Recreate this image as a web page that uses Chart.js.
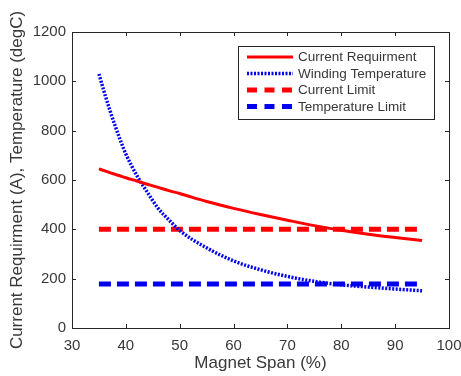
<!DOCTYPE html>
<html>
<head>
<meta charset="utf-8">
<script src="https://cdn.jsdelivr.net/npm/chart.js@4.4.1/dist/chart.umd.min.js"></script>
<style>
  html, body { margin: 0; padding: 0; background: #fff; }
  #wrap { width: 461px; height: 376px; }
</style>
</head>
<body>
<div id="wrap"><canvas id="myChart" width="461" height="376"></canvas></div>
<script>
// data
var spans = [35, 36, 37, 38, 39, 40, 42, 44, 46, 48, 50, 55, 60, 65, 70, 75, 80, 85, 90, 95];
var currentReq = [645, 638, 630, 623, 616, 609, 596, 583, 570, 557, 545, 513, 485, 460, 437, 415, 396, 380, 367, 355];
var windingTemp = [1030, 955, 885, 820, 760, 705, 620, 550, 485, 438, 395, 325, 272, 236, 209, 189, 175, 166, 158, 151];
var limitSpans = [35, 95];
var currentLimit = [400, 400];
var tempLimit = [178, 178];
var xTicks = [30, 40, 50, 60, 70, 80, 90, 100];
var yTicks = [0, 200, 400, 600, 800, 1000, 1200];

var FONT = "'Liberation Sans', Arial, sans-serif";
var TXT = '#383838';

function pts(xs, ys) {
    return xs.map(function(x, i) { return {x: x, y: ys[i]}; });
}

// box around the plot + inward ticks, matlab style
var boxPlugin = {
    id: 'box',
    afterDatasetsDraw: function(chart) {
        var ctx = chart.ctx, a = chart.chartArea;
        var xs = chart.scales.x, ys = chart.scales.y;
        ctx.save();
        ctx.strokeStyle = '#262626';
        ctx.lineWidth = 1;
        ctx.strokeRect(Math.round(a.left) + 0.5, Math.round(a.top) + 0.5,
            Math.round(a.right - a.left), Math.round(a.bottom - a.top));
        ctx.beginPath();
        xTicks.forEach(function(v) {
            var p = Math.round(xs.getPixelForValue(v)) + 0.5;
            ctx.moveTo(p, a.bottom); ctx.lineTo(p, a.bottom - 4);
            ctx.moveTo(p, a.top); ctx.lineTo(p, a.top + 4);
        });
        yTicks.forEach(function(v) {
            var p = Math.round(ys.getPixelForValue(v)) + 0.5;
            ctx.moveTo(a.left, p); ctx.lineTo(a.left + 4, p);
            ctx.moveTo(a.right, p); ctx.lineTo(a.right - 4, p);
        });
        ctx.stroke();

        // legend
        var bw = 196, bh = 73;
        var bx = a.right - 15 - bw, by = a.top + 14;
        ctx.fillStyle = '#fff';
        ctx.fillRect(bx, by, bw, bh);
        ctx.strokeStyle = '#262626';
        ctx.strokeRect(Math.round(bx) + 0.5, Math.round(by) + 0.5, bw, bh);
        ctx.font = '13.5px ' + FONT;
        ctx.textBaseline = 'middle';
        chart.data.datasets.forEach(function(ds, i) {
            var yy = by + 11 + i * 16.5;
            ctx.beginPath();
            ctx.strokeStyle = ds.borderColor;
            ctx.lineWidth = ds.borderWidth;
            ctx.lineCap = 'butt';
            ctx.setLineDash(ds.legendDash || []);
            ctx.moveTo(bx + 9, yy);
            ctx.lineTo(bx + 55, yy);
            ctx.stroke();
            ctx.setLineDash([]);
            ctx.fillStyle = TXT;
            ctx.fillText(ds.label, bx + 60, yy + 0.5);
        });
        ctx.restore();
    }
};

var ctx = document.getElementById('myChart').getContext('2d');
var myChart = new Chart(ctx, {
    type: 'line',
    data: {
        datasets: [{
            label: 'Current Requirment',
            data: pts(spans, currentReq),
            borderColor: '#ff0000',
            borderWidth: 3,
            cubicInterpolationMode: 'monotone'
        }, {
            label: 'Winding Temperature',
            data: pts(spans, windingTemp),
            borderColor: '#0000ee',
            borderWidth: 3.5,
            borderDash: [2, 1.5],
            legendDash: [2, 1.5],
            cubicInterpolationMode: 'monotone'
        }, {
            label: 'Current Limit',
            data: pts(limitSpans, currentLimit),
            borderColor: '#ff0000',
            borderWidth: 5,
            borderDash: [12, 6],
            legendDash: [10, 7.5]
        }, {
            label: 'Temperature Limit',
            data: pts(limitSpans, tempLimit),
            borderColor: '#0000ee',
            borderWidth: 5,
            borderDash: [12, 6],
            legendDash: [10, 7.5]
        }]
    },
    options: {
        responsive: false,
        animation: false,
        events: [],
        elements: { point: { radius: 0 } },
        layout: { padding: { top: 32, right: 12, left: 0, bottom: 0 } },
        plugins: {
            legend: { display: false },
            tooltip: { enabled: false }
        },
        scales: {
            x: {
                type: 'linear',
                min: 30, max: 100,
                afterFit: function(s) { s.height = 48; s.paddingLeft = 0; s.paddingRight = 0; },
                afterBuildTicks: function(s) { s.ticks = xTicks.map(function(v) { return {value: v}; }); },
                grid: { display: false, drawTicks: false },
                border: { display: false },
                ticks: { padding: 9, color: TXT, font: { family: FONT, size: 15 },
                    callback: function(v) { return String(v); } },
                title: {
                    display: true, text: 'Magnet Span (%)', color: TXT,
                    font: { family: FONT, size: 17 }, padding: { top: 0, bottom: 2 }
                }
            },
            y: {
                min: 0, max: 1200,
                afterFit: function(s) { s.width = 72; s.paddingTop = 0; s.paddingBottom = 0; },
                afterBuildTicks: function(s) { s.ticks = yTicks.map(function(v) { return {value: v}; }); },
                grid: { display: false, drawTicks: false },
                border: { display: false },
                ticks: { padding: 6, color: TXT, font: { family: FONT, size: 15 },
                    callback: function(v) { return String(v); } },
                title: {
                    display: true, text: 'Current Requirment (A), Temperature (degC)', color: TXT,
                    font: { family: FONT, size: 17 }, padding: { top: 7, bottom: 0 }
                }
            }
        }
    },
    plugins: [boxPlugin]
});
</script>
</body>
</html>
